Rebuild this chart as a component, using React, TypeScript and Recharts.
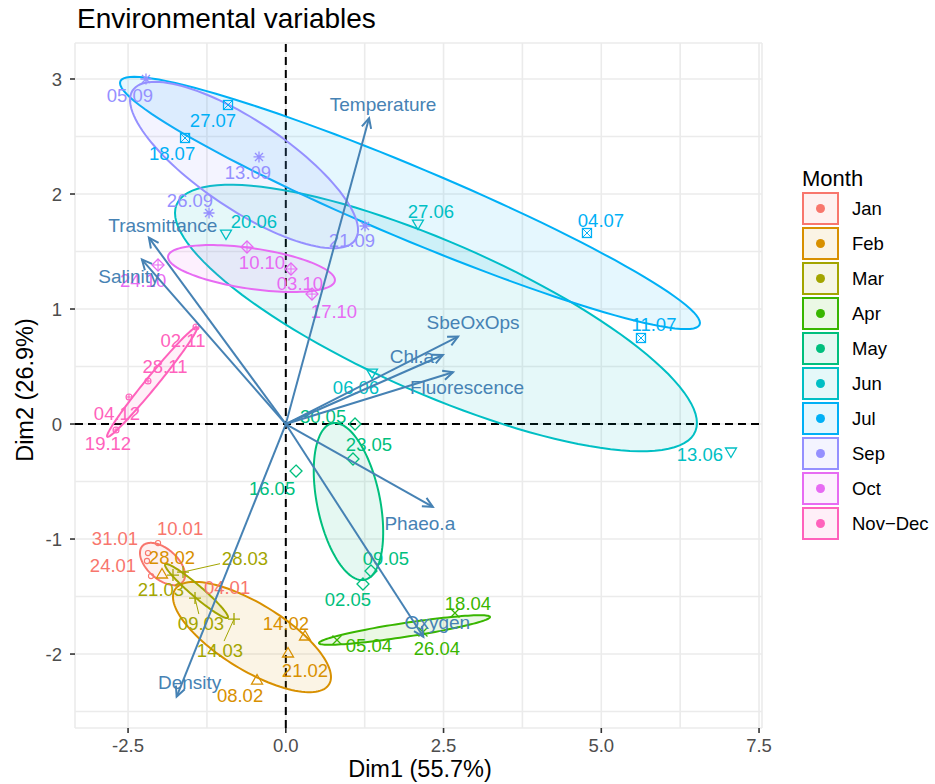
import React from 'react';
import { ScatterChart, Scatter, XAxis, YAxis, CartesianGrid, ReferenceLine } from 'recharts';

const FONT = '"Liberation Sans", Arial, Helvetica, sans-serif';

// ---------- categories ----------
const months = ['Jan', 'Feb', 'Mar', 'Apr', 'May', 'Jun', 'Jul', 'Sep', 'Oct', 'Nov\u2212Dec'];
const monthColors = ['#F8766D', '#D89000', '#A3A500', '#39B600', '#00BF7D', '#00BFC4', '#00B0F6', '#9590FF', '#E76BF3', '#FF62BC'];
const monthShapes = ['circle', 'triangle', 'plus', 'cross', 'diamond', 'triangleDown', 'squareCross', 'asterisk', 'diamondPlus', 'circlePlus'];

// ---------- individuals (Dim1, Dim2) ----------
const janPts = [
  { label: '10.01', x: -2.025, y: -1.035 },
  { label: '31.01', x: -2.184, y: -1.122 },
  { label: '24.01', x: -2.2, y: -1.191 },
  { label: '04.01', x: -2.136, y: -1.322 },
];
const febPts = [
  { label: '28.02', x: -1.962, y: -1.304 },
  { label: '14.02', x: 0.304, y: -1.843 },
  { label: '21.02', x: 0.035, y: -1.991 },
  { label: '08.02', x: -0.456, y: -2.226 },
];
const marPts = [
  { label: '28.03', x: -1.629, y: -1.287 },
  { label: '21.03', x: -1.788, y: -1.313 },
  { label: '09.03', x: -1.439, y: -1.513 },
  { label: '14.03', x: -0.821, y: -1.696 },
];
const aprPts = [
  { label: '05.04', x: 0.811, y: -1.878 },
  { label: '26.04', x: 2.174, y: -1.809 },
  { label: '18.04', x: 2.681, y: -1.643 },
];
const mayPts = [
  { label: '30.05', x: 1.097, y: 0.0 },
  { label: '23.05', x: 1.065, y: -0.304 },
  { label: '16.05', x: 0.162, y: -0.409 },
  { label: '09.05', x: 1.35, y: -1.278 },
  { label: '02.05', x: 1.223, y: -1.391 },
];
const junPts = [
  { label: '20.06', x: -0.948, y: 1.652 },
  { label: '27.06', x: 2.094, y: 1.739 },
  { label: '13.06', x: 7.055, y: -0.243 },
  { label: '06.06', x: 1.366, y: 0.443 },
];
const julPts = [
  { label: '27.07', x: -0.916, y: 2.774 },
  { label: '18.07', x: -1.597, y: 2.487 },
  { label: '04.07', x: 4.773, y: 1.661 },
  { label: '11.07', x: 5.629, y: 0.748 },
];
const sepPts = [
  { label: '05.09', x: -2.216, y: 3.0 },
  { label: '13.09', x: -0.425, y: 2.322 },
  { label: '26.09', x: -1.217, y: 1.835 },
  { label: '21.09', x: 1.255, y: 1.722 },
];
const octPts = [
  { label: '24.10', x: -2.025, y: 1.383 },
  { label: '10.10', x: -0.615, y: 1.539 },
  { label: '03.10', x: 0.082, y: 1.348 },
  { label: '17.10', x: 0.415, y: 1.13 },
];
const novDecPts = [
  { label: '02.11', x: -1.423, y: 0.843 },
  { label: '28.11', x: -2.184, y: 0.374 },
  { label: '04.12', x: -2.485, y: 0.235 },
  { label: '19.12', x: -2.691, y: -0.052 },
];
const monthPoints = [janPts, febPts, marPts, aprPts, mayPts, junPts, julPts, sepPts, octPts, novDecPts];

// ---------- concentration ellipses: centre + two conjugate half-axes (data units) ----------
const ellipses = [
  { cx: -1.954, cy: -1.217, ux: 0.357, uy: -0.096, vx: 0, vy: 0.157 }, // Jan
  { cx: -0.536, cy: -1.852, ux: 1.252, uy: -0.348, vx: 0, vy: 0.33 }, // Feb
  { cx: -1.415, cy: -1.452, ux: 0.499, uy: -0.226, vx: 0, vy: 0.065 }, // Mar
  { cx: 1.881, cy: -1.791, ux: 1.355, uy: 0.113, vx: 0, vy: 0.061 }, // Apr
  { cx: 0.993, cy: -0.674, ux: -0.214, uy: 0.683, vx: 0.507, vy: 0 }, // May
  { cx: 2.38, cy: 0.922, ux: 4.136, uy: -0.913, vx: 0, vy: 0.713 }, // Jun
  { cx: 1.968, cy: 1.922, ux: 4.596, uy: -1.043, vx: 0, vy: 0.339 }, // Jul
  { cx: -0.662, cy: 2.252, ux: 1.807, uy: -0.565, vx: 0, vy: 0.452 }, // Sep
  { cx: -0.544, cy: 1.352, ux: 1.323, uy: -0.1, vx: 0, vy: 0.178 }, // Oct
  { cx: -2.12, cy: 0.365, ux: 0.713, uy: 0.47, vx: 0, vy: 0.08 }, // Nov-Dec
];

// ---------- variables (arrows) ----------
const variableNames = ['Temperature', 'Trasmittance', 'Salinity', 'SbeOxOps', 'Chl.a', 'Fluorescence', 'Phaeo.a', 'Oxygen', 'Density'];
const variableDim1 = [1.32, -2.17, -2.28, 2.73, 2.49, 2.65, 2.33, 2.18, -1.73];
const variableDim2 = [2.66, 1.62, 1.43, 0.76, 0.6, 0.45, -0.72, -1.85, -2.37];

// ---------- axes ----------
const xTicks = [-2.5, -1.25, 0, 1.25, 2.5, 3.75, 5, 6.25, 7.5];
const xMajor = [-2.5, 0, 2.5, 5, 7.5];
const xTickLabels = ['-2.5', '0.0', '2.5', '5.0', '7.5'];
const yTicks = [-2.5, -2, -1.5, -1, -0.5, 0, 0.5, 1, 1.5, 2, 2.5, 3];
const yMajor = [-2, -1, 0, 1, 2, 3];
const yTickLabels = ['-2', '-1', '0', '1', '2', '3'];

// ---------- label layout (pixel nudges) ----------
const labelNudge: Record<string, [number, number]> = {
  '10.01': [22, -15], '31.01': [-33, -15], '24.01': [-34, 4], '04.01': [76, 11],
  '28.02': [10, -17], '14.02': [-19, -13], '21.02': [17, 17], '08.02': [-17, 15],
  '28.03': [62, -14], '21.03': [-12, 14], '09.03': [6, 25], '14.03': [-14, 31],
  '05.04': [32, 5], '26.04': [14, 16], '18.04': [13, -10],
  '30.05': [-32, -8], '23.05': [16, -15], '16.05': [-24, 17], '09.05': [15, -13], '02.05': [-15, 15],
  '20.06': [28, -13], '27.06': [13, -13], '13.06': [-31, 2], '06.06': [-16, 14],
  '27.07': [-15, 15], '18.07': [-13, 15], '04.07': [14, -13], '11.07': [13, -14],
  '05.09': [-16, 16], '13.09': [-11, 15], '26.09': [-19, -13], '21.09': [-13, 14],
  '24.10': [-15, 15], '10.10': [15, 15], '03.10': [9, 14], '17.10': [22, 17],
  '02.11': [-13, 13], '28.11': [17, -15], '04.12': [-12, 16], '19.12': [-8, 13],
};
const segmentLabels = ['28.03', '09.03', '14.03'];
const varNudge: Record<string, [number, number]> = {
  Temperature: [14, -14], Trasmittance: [14, -13], Salinity: [-13, 17], SbeOxOps: [15, -14],
  'Chl.a': [-31, 1], Fluorescence: [14, 15], 'Phaeo.a': [-13, 16], Oxygen: [14, -15], Density: [13, -14],
};

const ARROW_COLOR = '#4682B4';

function ellipseOutline(e: typeof ellipses[number]) {
  const pts: { x: number; y: number }[] = [];
  const n = 120;
  for (let i = 0; i <= n; i++) {
    const t = (i / n) * Math.PI * 2;
    pts.push({ x: e.cx + e.ux * Math.cos(t) + e.vx * Math.sin(t), y: e.cy + e.uy * Math.cos(t) + e.vy * Math.sin(t) });
  }
  return pts;
}

function renderSymbol(kind: string, cx: number, cy: number, c: string) {
  const sw = 1.3;
  const p = { fill: 'none', stroke: c, strokeWidth: sw };
  switch (kind) {
    case 'circle':
      return <circle cx={cx} cy={cy} r={2.6} {...p} strokeWidth={1.1} />;
    case 'triangle':
      return <polygon points={`${cx},${cy - 5.5} ${cx + 5.5},${cy + 4} ${cx - 5.5},${cy + 4}`} {...p} />;
    case 'plus':
      return <path d={`M${cx - 6},${cy}H${cx + 6}M${cx},${cy - 6}V${cy + 6}`} {...p} />;
    case 'cross':
      return <path d={`M${cx - 4.5},${cy - 4.5}L${cx + 4.5},${cy + 4.5}M${cx - 4.5},${cy + 4.5}L${cx + 4.5},${cy - 4.5}`} {...p} />;
    case 'diamond':
      return <polygon points={`${cx},${cy - 6} ${cx + 6},${cy} ${cx},${cy + 6} ${cx - 6},${cy}`} {...p} />;
    case 'triangleDown':
      return <polygon points={`${cx - 5.5},${cy - 4} ${cx + 5.5},${cy - 4} ${cx},${cy + 5.5}`} {...p} />;
    case 'squareCross':
      return (
        <g>
          <rect x={cx - 4.5} y={cy - 4.5} width={9} height={9} {...p} />
          <path d={`M${cx - 4.5},${cy - 4.5}L${cx + 4.5},${cy + 4.5}M${cx - 4.5},${cy + 4.5}L${cx + 4.5},${cy - 4.5}`} {...p} strokeWidth={1} />
        </g>
      );
    case 'asterisk':
      return (
        <path
          d={`M${cx - 5.5},${cy}H${cx + 5.5}M${cx},${cy - 5.5}V${cy + 5.5}M${cx - 4},${cy - 4}L${cx + 4},${cy + 4}M${cx - 4},${cy + 4}L${cx + 4},${cy - 4}`}
          {...p}
        />
      );
    case 'diamondPlus':
      return (
        <g>
          <polygon points={`${cx},${cy - 6} ${cx + 6},${cy} ${cx},${cy + 6} ${cx - 6},${cy}`} {...p} />
          <path d={`M${cx - 6},${cy}H${cx + 6}M${cx},${cy - 6}V${cy + 6}`} {...p} strokeWidth={1} />
        </g>
      );
    case 'circlePlus':
    default:
      return (
        <g>
          <circle cx={cx} cy={cy} r={3} {...p} strokeWidth={1.1} />
          <path d={`M${cx - 3},${cy}H${cx + 3}M${cx},${cy - 3}V${cy + 3}`} {...p} strokeWidth={1} />
        </g>
      );
  }
}

const makePointShape = (mi: number) => (props: any) => {
  const { cx, cy, payload } = props;
  if (cx == null || cy == null) return <g />;
  const color = monthColors[mi];
  const nudge = labelNudge[payload.label] || [0, 0];
  const lx = cx + nudge[0];
  const ly = cy + nudge[1];
  let seg = null;
  if (segmentLabels.includes(payload.label)) {
    const dx = lx - cx;
    const dy = ly - cy;
    const hw = 25;
    const hh = 9;
    const t = Math.min(dx !== 0 ? hw / Math.abs(dx) : 99, dy !== 0 ? hh / Math.abs(dy) : 99);
    const ex = lx - dx * t;
    const ey = ly - dy * t;
    seg = <line x1={cx} y1={cy} x2={ex} y2={ey} stroke={color} strokeWidth={1} />;
  }
  return (
    <g>
      {seg}
      {renderSymbol(monthShapes[mi], cx, cy, color)}
      <text x={lx} y={ly} dy="0.36em" textAnchor="middle" fill={color} fontSize={18.5} fontFamily={FONT}>
        {payload.label}
      </text>
    </g>
  );
};

const hiddenShape = () => <g />;

const makeEllipseLine = (color: string) => (p: any) => {
  const pts = p.points || [];
  if (!pts.length) return <g />;
  const d = pts.map((q: any, i: number) => `${i ? 'L' : 'M'}${q.x},${q.y}`).join('') + 'Z';
  return <path d={d} fill={color} fillOpacity={0.1} stroke={color} strokeWidth={2} />;
};

const arrowLine = (p: any) => {
  const pts = p.points || [];
  if (pts.length < 2) return <g />;
  const a = pts[0];
  const b = pts[1];
  const ang = Math.atan2(b.y - a.y, b.x - a.x);
  const L = 11;
  const A = Math.PI / 7;
  const h1x = b.x - L * Math.cos(ang - A);
  const h1y = b.y - L * Math.sin(ang - A);
  const h2x = b.x - L * Math.cos(ang + A);
  const h2y = b.y - L * Math.sin(ang + A);
  return (
    <g>
      <line x1={a.x} y1={a.y} x2={b.x} y2={b.y} stroke={ARROW_COLOR} strokeWidth={2} />
      <polyline points={`${h1x},${h1y} ${b.x},${b.y} ${h2x},${h2y}`} fill="none" stroke={ARROW_COLOR} strokeWidth={2} />
    </g>
  );
};

const varLabelShape = (props: any) => {
  const { cx, cy, payload } = props;
  if (cx == null) return <g />;
  const n = varNudge[payload.name] || [0, 0];
  return (
    <text x={cx + n[0]} y={cy + n[1]} dy="0.36em" textAnchor="middle" fill={ARROW_COLOR} fontSize={19} fontFamily={FONT}>
      {payload.name}
    </text>
  );
};

const XTick = (props: any) => {
  const { x, y, payload } = props;
  const i = xMajor.indexOf(payload.value);
  if (i < 0) return <g />;
  return (
    <g>
      <line x1={x} x2={x} y1={y - 11} y2={y - 6} stroke="#333333" strokeWidth={1.6} />
      <text x={x} y={y} dy="0.71em" textAnchor="middle" fill="#4D4D4D" fontSize={18.5} fontFamily={FONT}>
        {xTickLabels[i]}
      </text>
    </g>
  );
};

const YTick = (props: any) => {
  const { x, y, payload } = props;
  const i = yMajor.indexOf(payload.value);
  if (i < 0) return <g />;
  return (
    <g>
      <line x1={x + 8} x2={x + 13} y1={y} y2={y} stroke="#333333" strokeWidth={1.6} />
      <text x={x} y={y} dy="0.36em" textAnchor="end" fill="#4D4D4D" fontSize={18.5} fontFamily={FONT}>
        {yTickLabels[i]}
      </text>
    </g>
  );
};

export default function App() {
  const variableTips = variableNames.map((name, i) => ({ name, x: variableDim1[i], y: variableDim2[i] }));
  return (
    <div style={{ position: 'absolute', left: 0, top: 0, width: 935, height: 784, background: '#fff' }}>
      <ScatterChart width={935} height={784} margin={{ top: 43, right: 173, bottom: 16, left: 15 }}>
        <CartesianGrid stroke="#EBEBEB" strokeWidth={1.6} />
        <XAxis
          type="number"
          dataKey="x"
          domain={[-3.341, 7.547]}
          allowDataOverflow
          ticks={xTicks}
          interval={0}
          tickLine={false}
          axisLine={false}
          tickSize={5}
          tickMargin={6}
          height={40}
          tick={XTick}
        />
        <YAxis
          type="number"
          dataKey="y"
          domain={[-2.643, 3.313]}
          allowDataOverflow
          ticks={yTicks}
          interval={0}
          tickLine={false}
          axisLine={false}
          tickSize={5}
          tickMargin={8}
          width={60}
          tick={YTick}
        />
        {ellipses.map((e, i) => (
          <Scatter
            key={'ell' + i}
            data={ellipseOutline(e)}
            line={makeEllipseLine(monthColors[i])}
            lineType="joint"
            shape={hiddenShape}
            isAnimationActive={false}
          />
        ))}
        <ReferenceLine x={0} stroke="#000000" strokeWidth={2} strokeDasharray="8 5" />
        <ReferenceLine y={0} stroke="#000000" strokeWidth={2} strokeDasharray="8 5" />
        {monthPoints.map((pts, i) => (
          <Scatter key={'pts' + i} data={pts} shape={makePointShape(i)} isAnimationActive={false} />
        ))}
        {variableTips.map((v, i) => (
          <Scatter
            key={'arr' + i}
            data={[{ x: 0, y: 0 }, { x: v.x, y: v.y }]}
            line={arrowLine}
            lineType="joint"
            shape={hiddenShape}
            isAnimationActive={false}
          />
        ))}
        <Scatter data={variableTips} shape={varLabelShape} isAnimationActive={false} />
      </ScatterChart>
      <svg width={935} height={784} style={{ position: 'absolute', left: 0, top: 0, pointerEvents: 'none' }}>
        <text x={77} y={28} fontSize={28} fontFamily={FONT} fill="#000">
          Environmental variables
        </text>
        <text x={420} y={777} textAnchor="middle" fontSize={23.5} fontFamily={FONT} fill="#000">
          Dim1 (55.7%)
        </text>
        <text x={33} y={390} textAnchor="middle" fontSize={23.5} fontFamily={FONT} fill="#000" transform="rotate(-90 33 390)">
          Dim2 (26.9%)
        </text>
        <text x={802} y={186} fontSize={22} fontFamily={FONT} fill="#000">
          Month
        </text>
        {months.map((m, k) => (
          <g key={m}>
            <rect x={803} y={193 + 35 * k} width={35} height={31} fill={monthColors[k]} fillOpacity={0.1} stroke={monthColors[k]} strokeWidth={2} />
            <circle cx={820.5} cy={208.5 + 35 * k} r={4.5} fill={monthColors[k]} />
            <text x={852} y={208.5 + 35 * k} dy="0.36em" fontSize={18.5} fontFamily={FONT} fill="#000">
              {m}
            </text>
          </g>
        ))}
      </svg>
    </div>
  );
}
